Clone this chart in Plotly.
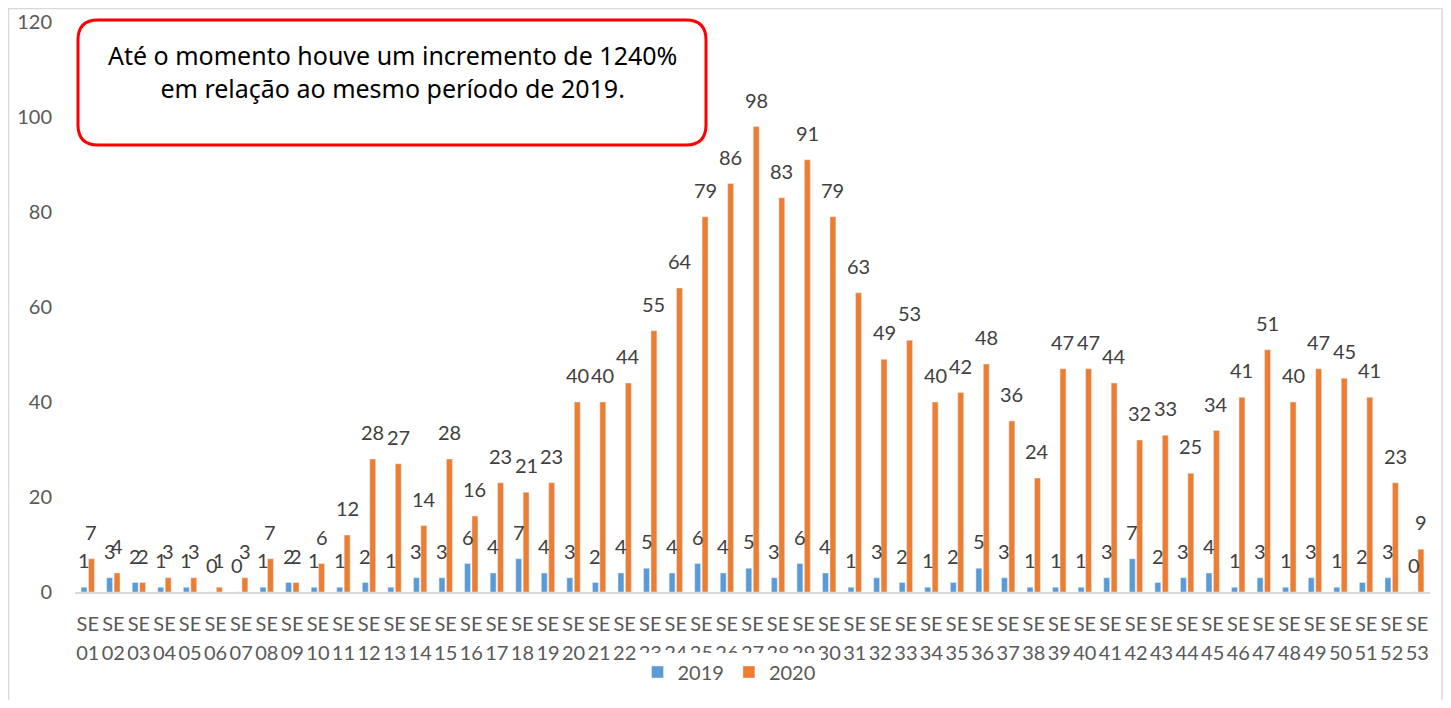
import plotly.graph_objects as go

weeks = [f"SE{i:02d}" for i in range(1, 54)]
week_nums = [w[2:] for w in weeks]
v2019 = [1,3,2,1,1,0,0,1,2,1,1,2,1,3,3,6,4,7,4,3,2,4,5,4,6,4,5,3,6,4,
         1,3,2,1,2,5,3,1,1,1,3,7,2,3,4,1,3,1,3,1,2,3,0]
v2020 = [7,4,2,3,3,1,3,7,2,6,12,28,27,14,28,16,23,21,23,40,40,44,55,64,79,86,98,83,91,79,
         63,49,53,40,42,48,36,24,47,47,44,32,33,25,34,41,51,40,47,45,41,23,9]
y_ticks = [0, 20, 40, 60, 80, 100, 120]
note = "Até o momento houve um incremento de 1240%<br>em relação ao mesmo período de 2019."

# page has an 8px body margin; work in page pixels and convert
OFF = 8
W, H = 1435, 692
PL, PR, PT, PB = 75, 1430, 22, 592
L, T = PL - OFF, PT - OFF
R, B = W - (PR - OFF), H - (PB - OFF)
PW, PH = PR - PL, PB - PT

def px(x):
    return (x - PL) / PW

def py(y):
    return (PB - y) / PH

BLUE = "#5B9BD5"
ORANGE = "#ED7D31"
LABEL = "#404040"
TICK = "#595959"
FONT = "Lato, 'Open Sans', sans-serif"

fig = go.Figure()
fig.add_trace(go.Bar(x=weeks, y=v2019, name="2019", marker_color=BLUE))
fig.add_trace(go.Bar(x=weeks, y=v2020, name="2020", marker_color=ORANGE))
# invisible carrier for the second line of category labels
fig.add_trace(go.Scatter(x=weeks, y=v2020, xaxis="x2", mode="markers",
                         marker=dict(opacity=0, size=1), showlegend=False, hoverinfo="skip"))

# data labels
slot = PW / len(weeks) * (1 - 0.42) / 2
for vals, sh in ((v2019, -slot / 2), (v2020, slot / 2)):
    for w, v in zip(weeks, vals):
        fig.add_annotation(x=w, y=v, text=str(v), showarrow=False,
                           xshift=sh, yshift=27, yanchor="middle",
                           font=dict(family=FONT, size=20, color=LABEL))

# rounded red box
x0, x1, y0, y1 = px(78), px(706), py(145), py(20)
rx, ry = 20 / PW, 20 / PH
path = (f"M {x0+rx},{y0} L {x1-rx},{y0} Q {x1},{y0} {x1},{y0+ry} "
        f"L {x1},{y1-ry} Q {x1},{y1} {x1-rx},{y1} L {x0+rx},{y1} "
        f"Q {x0},{y1} {x0},{y1-ry} L {x0},{y0+ry} Q {x0},{y0} {x0+rx},{y0} Z")
fig.add_shape(type="path", path=path, xref="paper", yref="paper",
              line=dict(color="#FF0000", width=3), fillcolor="white", layer="above")
fig.add_annotation(xref="paper", yref="paper", x=px(392), y=py(71.5), text=note,
                   showarrow=False, xanchor="center", yanchor="middle", align="center",
                   font=dict(family="'Noto Sans', sans-serif", size=25, color="#000000"))

# outer chart border
fig.add_shape(type="rect", xref="paper", yref="paper",
              x0=px(OFF + 0.5), x1=px(1442), y0=py(720), y1=py(OFF + 0.5),
              line=dict(color="#D9D9D9", width=1.5), fillcolor="rgba(0,0,0,0)", layer="below")

xrange = [-0.5, len(weeks) - 0.5]
fig.update_layout(
    width=W, height=H,
    margin=dict(l=L, r=R, t=T, b=B, autoexpand=False),
    paper_bgcolor="white", plot_bgcolor="white",
    barmode="group", bargap=0.42, bargroupgap=0.2,
    font=dict(family=FONT, color=TICK),
    legend=dict(orientation="h", x=px(729), y=py(672), xanchor="center", yanchor="middle",
                font=dict(family=FONT, size=20, color=TICK), traceorder="normal"),
    showlegend=True,
    xaxis=dict(range=xrange, showgrid=False, showline=True, linecolor="#D9D9D9", linewidth=1.5,
               tickangle=0, tickvals=weeks, ticktext=["SE"] * len(weeks),
               tickfont=dict(family=FONT, size=20, color=TICK), ticks="",
               ticklabelstandoff=13),
    xaxis2=dict(overlaying="x", matches="x", anchor="y", side="bottom", range=xrange,
                showgrid=False, showline=False, zeroline=False, ticks="",
                tickangle=0, tickvals=weeks, ticktext=week_nums,
                tickfont=dict(family=FONT, size=20, color=TICK),
                ticklabelstandoff=47),
    yaxis=dict(range=[0, 120], tickvals=y_ticks, showgrid=False, zeroline=False,
               showline=False, ticklabelstandoff=22,
               tickfont=dict(family=FONT, size=20, color=TICK)),
)

fig.write_html("out.html")
